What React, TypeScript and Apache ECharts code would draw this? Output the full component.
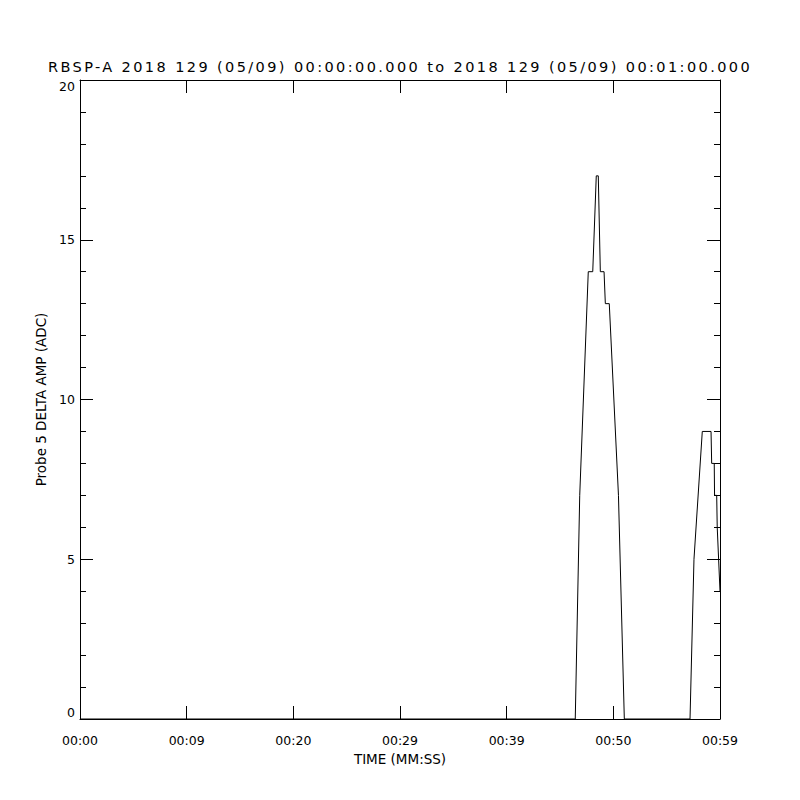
import React, { useEffect, useRef } from "react";
import * as echarts from "echarts";

const titleText = "RBSP-A 2018 129 (05/09) 00:00:00.000 to 2018 129 (05/09) 00:01:00.000";
const xAxisName = "TIME (MM:SS)";
const yAxisName = "Probe 5 DELTA AMP (ADC)";
const xTickValues = [0, 10, 20, 30, 40, 50, 60];
const xTickLabels = ["00:00", "00:09", "00:20", "00:29", "00:39", "00:50", "00:59"];
const times = [0, 46.43, 46.85, 47.65, 48.07, 48.4, 48.59, 48.78, 49.13, 49.25, 49.62, 50.48, 51.03, 57.19, 57.56, 58.34, 59.16, 59.22, 59.46, 59.49, 59.69, 59.74, 60.0];
const values = [0, 0, 7, 14, 14, 17, 17, 14, 14, 13, 13, 7, 0, 0, 5, 9, 9, 8, 8, 7, 7, 6, 4];

const FONT = "DejaVu Sans";
const TITLE_COLOR = "#010101";

export default function App() {
  const ref = useRef<HTMLDivElement>(null);
  useEffect(() => {
    if (!ref.current) return;
    const chart = echarts.init(ref.current, null, { renderer: "svg" });
    const data = times.map((t, i) => [t, values[i]]);
    const xLabel = (v: number) => {
      const i = xTickValues.indexOf(Math.round(v));
      return i >= 0 ? xTickLabels[i] : "";
    };
    const baseX = {
      type: "value" as const,
      min: 0,
      max: 60,
      interval: 10,
      axisLine: { show: true, onZero: false, lineStyle: { color: "#000", width: 1 } },
      axisTick: { show: true, inside: true, length: 13, lineStyle: { color: "#000", width: 1 } },
      splitLine: { show: false },
    };
    const baseY = {
      type: "value" as const,
      min: 0,
      max: 20,
      interval: 5,
      axisLine: { show: true, onZero: false, lineStyle: { color: "#000", width: 1 } },
      axisTick: { show: true, inside: true, length: 13, lineStyle: { color: "#000", width: 1 } },
      minorTick: { show: true, splitNumber: 5, length: 6, lineStyle: { color: "#000", width: 1 } },
      splitLine: { show: false },
      minorSplitLine: { show: false },
    };
    chart.setOption({
      animation: false,
      backgroundColor: "#fff",
      title: {
        text: titleText,
        left: "center",
        top: 54,
        textStyle: { fontFamily: FONT, fontSize: 14.5, fontWeight: "normal", color: TITLE_COLOR },
      },
      grid: { left: 80, top: 80, width: 640, height: 639, containLabel: false },
      xAxis: [
        {
          ...baseX,
          position: "bottom",
          name: xAxisName,
          nameLocation: "middle",
          nameGap: 31,
          nameTextStyle: { fontFamily: FONT, fontSize: 13.5, color: "#000" },
          axisLabel: {
            show: true,
            margin: 15,
            fontFamily: FONT,
            fontSize: 12.5,
            color: "#000",
            formatter: xLabel,
            showMinLabel: true,
            showMaxLabel: true,
          },
        },
        { ...baseX, position: "top", axisLabel: { show: false } },
      ],
      yAxis: [
        {
          ...baseY,
          position: "left",
          name: yAxisName,
          nameLocation: "middle",
          nameGap: 25,
          nameTextStyle: { fontFamily: FONT, fontSize: 13.5, color: "#000" },
          axisLabel: {
            show: true,
            margin: 5,
            fontFamily: FONT,
            fontSize: 12.5,
            color: "#000",
            verticalAlignMinLabel: "bottom",
            verticalAlignMaxLabel: "top",
          },
        },
        { ...baseY, position: "right", axisLabel: { show: false } },
      ],
      series: [
        {
          type: "line",
          data,
          showSymbol: false,
          symbol: "none",
          clip: true,
          lineStyle: { color: "#000", width: 1 },
          xAxisIndex: 0,
          yAxisIndex: 0,
        },
      ],
    });
    return () => chart.dispose();
  }, []);
  return (
    <>
      <style>{`.chartbox svg text[fill="${TITLE_COLOR}"] { letter-spacing: 2.4px; }`}</style>
      <div className="chartbox" ref={ref} style={{ width: 800, height: 800, margin: -8 }} />
    </>
  );
}
